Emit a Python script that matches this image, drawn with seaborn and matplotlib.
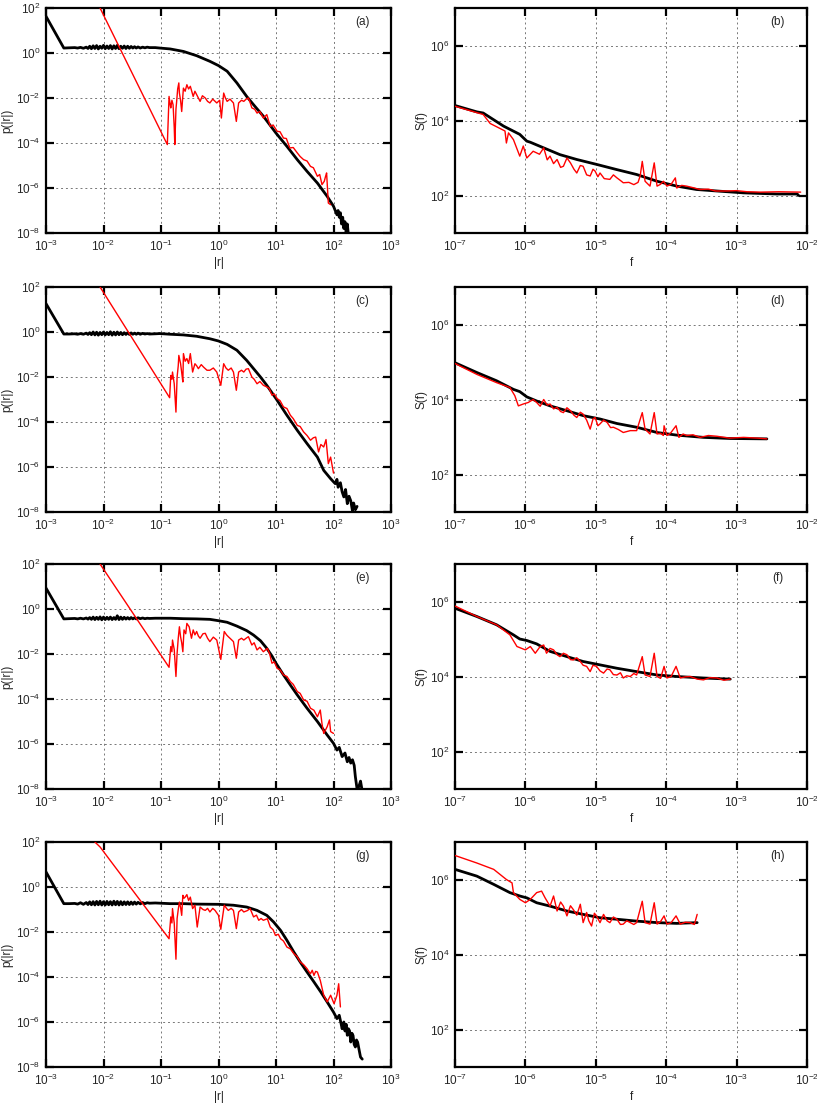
import numpy as np
import pandas as pd
import matplotlib
matplotlib.use('Agg')
import matplotlib.pyplot as plt
import matplotlib.ticker as mticker
import seaborn as sns

# ── Data (log10 values) ─────────────────────────────────────────
# left column: p(|r|) vs |r| ; black = model, red = data
a_blk_x = [-3.0, -2.69, -2.6, -2.5, -2.45, -2.4, -2.35, -2.3, -2.27, -2.24, -2.21, -2.18, -2.15, -2.12,
           -2.09, -2.06, -2.03, -2.0, -1.97, -1.94, -1.91, -1.88, -1.85, -1.82, -1.79, -1.76, -1.73, -1.7,
           -1.67, -1.64, -1.61, -1.58, -1.55, -1.52, -1.49, -1.46, -1.43, -1.4, -1.36, -1.32, -1.28, -1.24,
           -1.2, -1.1, -1.02, -0.84, -0.61, -0.38, -0.15, 0.0, 0.15, 0.32, 0.49, 0.61, 0.78, 1.0, 1.19, 1.37,
           1.54, 1.72, 1.89, 2.0, 2.03, 2.06, 2.08, 2.1, 2.12, 2.14, 2.16, 2.18, 2.2, 2.22, 2.24, 2.26]
a_blk_y = [1.63, 0.22, 0.23, 0.24, 0.22, 0.25, 0.21, 0.26, 0.2, 0.3, 0.19, 0.32, 0.2, 0.33,
           0.18, 0.3, 0.21, 0.34, 0.19, 0.31, 0.2, 0.33, 0.18, 0.32, 0.2, 0.34, 0.19, 0.3,
           0.21, 0.31, 0.2, 0.3, 0.21, 0.29, 0.22, 0.28, 0.22, 0.27, 0.22, 0.26, 0.23, 0.26,
           0.24, 0.24, 0.22, 0.18, 0.07, -0.12, -0.37, -0.56, -0.81, -1.33, -1.93, -2.3, -2.81, -3.56, -4.15, -4.74,
           -5.26, -5.78, -6.37, -6.81, -7.0, -7.19, -7.0, -7.3, -7.1, -7.6, -7.3, -7.8, -7.5, -8.0, -7.6, -8.1]
a_red_x = [-2.06, -0.89, -0.86, -0.84, -0.83, -0.81, -0.79, -0.77, -0.76, -0.74, -0.73, -0.71, -0.69, -0.68,
           -0.66, -0.64, -0.62, -0.61, -0.58, -0.55, -0.52, -0.49, -0.46, -0.44, -0.41, -0.38, -0.35, -0.32,
           -0.28, -0.23, -0.19, -0.15, -0.1, -0.03, 0.02, 0.05, 0.09, 0.12, 0.15, 0.2, 0.26, 0.31, 0.35, 0.4,
           0.44, 0.48, 0.52, 0.55, 0.58, 0.63, 0.67, 0.72, 0.78, 0.84, 0.9, 0.95, 1.02, 1.07, 1.13, 1.18, 1.24,
           1.3, 1.37, 1.42, 1.48, 1.54, 1.6, 1.65, 1.72, 1.76, 1.8, 1.84, 1.86, 1.88, 1.91, 1.95]
a_red_y = [2.0, -4.07, -1.93, -2.3, -2.44, -2.1, -2.3, -3.3, -4.07, -2.5, -2.22, -1.6, -1.33, -1.78,
           -2.1, -2.6, -1.9, -1.56, -1.7, -1.41, -1.6, -1.48, -1.75, -1.93, -1.7, -1.85, -2.0, -2.15,
           -1.9, -2.0, -2.15, -2.22, -2.05, -2.22, -2.1, -2.89, -1.78, -2.0, -2.15, -2.05, -2.22, -3.04, -2.22, -2.1,
           -2.15, -2.05, -2.0, -2.2, -2.44, -2.5, -2.67, -2.6, -2.89, -2.74, -3.26, -3.2, -3.48, -3.5, -3.78, -3.8, -4.22,
           -4.2, -4.44, -4.6, -4.74, -4.8, -5.04, -5.1, -5.48, -5.4, -5.85, -5.7, -5.5, -5.33, -6.67, -6.74]

c_blk_x = [-3.0, -2.69, -2.6, -2.5, -2.45, -2.4, -2.35, -2.3, -2.27, -2.24, -2.21, -2.18, -2.15, -2.12,
           -2.09, -2.06, -2.03, -2.0, -1.97, -1.94, -1.91, -1.88, -1.85, -1.82, -1.79, -1.76, -1.73, -1.7,
           -1.67, -1.64, -1.61, -1.58, -1.55, -1.52, -1.49, -1.46, -1.43, -1.4, -1.36, -1.32, -1.28, -1.24,
           -1.2, -1.1, -1.02, -0.84, -0.61, -0.38, -0.15, 0.0, 0.15, 0.32, 0.49, 0.61, 0.73, 0.84, 1.0, 1.19,
           1.37, 1.54, 1.72, 1.83, 1.95, 2.03, 2.06, 2.08, 2.12, 2.15, 2.18, 2.21, 2.24, 2.27, 2.3, 2.33,
           2.35, 2.38, 2.41]
c_blk_y = [1.26, -0.09, -0.09, -0.08, -0.1, -0.07, -0.1, -0.05, -0.11, -0.03, -0.12, 0.0, -0.13, -0.01,
           -0.14, -0.02, -0.12, 0.0, -0.13, -0.02, -0.12, 0.01, -0.14, -0.01, -0.13, 0.0, -0.12, -0.02,
           -0.12, -0.03, -0.11, -0.03, -0.11, -0.04, -0.1, -0.05, -0.1, -0.05, -0.1, -0.06, -0.09, -0.07,
           -0.09, -0.08, -0.07, -0.1, -0.13, -0.19, -0.3, -0.4, -0.55, -0.81, -1.26, -1.63, -2.0, -2.37, -2.96, -3.7,
           -4.37, -4.96, -5.56, -6.15, -6.52, -6.74, -6.55, -6.9, -6.7, -7.1, -7.33, -7.0, -7.63, -7.3, -7.5, -7.95,
           -7.6, -7.9, -7.75]
c_red_x = [-2.06, -0.85, -0.83, -0.81, -0.8, -0.77, -0.74, -0.72, -0.7, -0.69, -0.66, -0.64, -0.62, -0.61,
           -0.58, -0.55, -0.52, -0.49, -0.45, -0.41, -0.38, -0.35, -0.3, -0.26, -0.2, -0.15, -0.09, -0.03, 0.04,
           0.09, 0.13, 0.17, 0.22, 0.26, 0.31, 0.35, 0.4, 0.44, 0.48, 0.52, 0.58, 0.62, 0.67, 0.72, 0.78,
           0.84, 0.88, 0.93, 0.97, 1.02, 1.07, 1.13, 1.19, 1.25, 1.3, 1.37, 1.42, 1.48, 1.54, 1.6, 1.65, 1.69,
           1.74, 1.78, 1.83, 1.87, 1.91, 1.95, 2.0]
c_red_y = [2.0, -2.92, -1.93, -2.1, -1.78, -2.3, -3.56, -2.0, -1.5, -1.04, -1.4, -1.8, -2.22, -0.96,
           -1.3, -1.18, -1.4, -0.96, -1.78, -1.41, -1.5, -1.63, -1.45, -1.56, -1.7, -1.7, -1.6, -1.78, -2.37,
           -1.41, -1.6, -1.7, -1.6, -1.78, -2.59, -1.78, -1.7, -1.78, -1.65, -1.63, -2.0, -2.1, -2.3, -2.2, -2.37,
           -2.44, -2.5, -2.81, -2.75, -2.96, -3.05, -3.33, -3.4, -3.7, -3.85, -4.15, -4.2, -4.44, -4.6, -4.81, -4.7, -4.67,
           -5.33, -5.0, -5.11, -4.78, -5.85, -5.56, -6.27]

e_blk_x = [-3.0, -2.69, -2.6, -2.5, -2.45, -2.4, -2.35, -2.3, -2.27, -2.24, -2.21, -2.18, -2.15, -2.12,
           -2.09, -2.06, -2.03, -2.0, -1.97, -1.94, -1.91, -1.88, -1.85, -1.82, -1.79, -1.76, -1.73, -1.7,
           -1.67, -1.64, -1.61, -1.58, -1.55, -1.52, -1.49, -1.46, -1.43, -1.4, -1.36, -1.32, -1.28, -1.24,
           -1.2, -1.1, -0.84, -0.61, -0.38, -0.15, 0.0, 0.15, 0.32, 0.49, 0.61, 0.73, 0.84, 0.93, 1.0, 1.13,
           1.25, 1.37, 1.54, 1.72, 1.89, 2.0, 2.06, 2.1, 2.15, 2.2, 2.24, 2.27, 2.3, 2.33, 2.36, 2.38, 2.41,
           2.44, 2.47, 2.5]
e_blk_y = [0.93, -0.44, -0.43, -0.42, -0.44, -0.41, -0.44, -0.4, -0.45, -0.38, -0.46, -0.36, -0.47, -0.37,
           -0.46, -0.35, -0.48, -0.36, -0.47, -0.37, -0.46, -0.36, -0.47, -0.38, -0.46, -0.3, -0.47, -0.36,
           -0.46, -0.37, -0.45, -0.38, -0.45, -0.38, -0.44, -0.39, -0.44, -0.39, -0.43, -0.4, -0.43, -0.41,
           -0.42, -0.41, -0.41, -0.43, -0.44, -0.46, -0.52, -0.59, -0.76, -0.96, -1.16, -1.41, -1.75, -2.09, -2.41, -2.93,
           -3.38, -3.82, -4.41, -5.0, -5.6, -5.97, -6.27, -6.15, -6.56, -6.4, -6.79, -6.6, -6.85, -6.7, -6.95, -7.45,
           -8.0, -7.9, -7.65, -8.1]
e_red_x = [-2.06, -0.86, -0.83, -0.81, -0.8, -0.77, -0.74, -0.72, -0.7, -0.68, -0.66, -0.64, -0.62, -0.6,
           -0.57, -0.55, -0.51, -0.47, -0.44, -0.41, -0.38, -0.35, -0.32, -0.27, -0.23, -0.19, -0.15, -0.09,
           -0.03, 0.04, 0.1, 0.14, 0.17, 0.22, 0.26, 0.31, 0.35, 0.4, 0.44, 0.48, 0.52, 0.58, 0.62, 0.67, 0.72,
           0.78, 0.85, 0.89, 0.93, 0.97, 1.02, 1.07, 1.13, 1.19, 1.25, 1.3, 1.37, 1.42, 1.48, 1.54, 1.6, 1.66,
           1.72, 1.77, 1.8, 1.83, 1.89, 1.93, 1.95, 2.0]
e_red_y = [2.0, -2.59, -1.67, -1.9, -1.38, -1.8, -3.0, -1.97, -1.3, -0.79, -1.23, -1.5, -1.9, -0.93,
           -1.1, -0.64, -0.79, -1.3, -0.93, -1.15, -1.0, -1.2, -1.3, -1.1, -1.08, -1.3, -1.45, -1.25,
           -1.38, -2.24, -1.0, -1.15, -1.23, -1.35, -1.45, -2.19, -1.38, -1.3, -1.38, -1.3, -1.23, -1.6, -1.5, -1.82, -1.7,
           -1.9, -1.75, -2.0, -2.41, -2.35, -2.64, -2.7, -2.93, -3.0, -3.23, -3.35, -3.67, -3.75, -4.04, -4.1, -4.41, -4.5,
           -4.79, -4.49, -5.1, -5.53, -5.23, -4.93, -5.45, -5.53]

g_blk_x = [-3.0, -2.69, -2.6, -2.5, -2.45, -2.4, -2.35, -2.3, -2.27, -2.24, -2.21, -2.18, -2.15, -2.12,
           -2.09, -2.06, -2.03, -2.0, -1.97, -1.94, -1.91, -1.88, -1.85, -1.82, -1.79, -1.76, -1.73, -1.7,
           -1.67, -1.64, -1.61, -1.58, -1.55, -1.52, -1.49, -1.46, -1.43, -1.4, -1.36, -1.32, -1.28, -1.24,
           -1.2, -1.1, -0.84, -0.61, -0.38, 0.0, 0.26, 0.49, 0.67, 0.84, 0.96, 1.08, 1.19, 1.31, 1.42, 1.54,
           1.66, 1.78, 1.89, 2.0, 2.06, 2.1, 2.13, 2.15, 2.18, 2.2, 2.22, 2.24, 2.26, 2.28, 2.3, 2.32, 2.34,
           2.36, 2.38, 2.4, 2.42, 2.45, 2.47, 2.5]
g_blk_y = [0.67, -0.74, -0.74, -0.73, -0.76, -0.7, -0.77, -0.69, -0.78, -0.66, -0.79, -0.65, -0.8, -0.64,
           -0.79, -0.63, -0.8, -0.65, -0.8, -0.64, -0.79, -0.65, -0.8, -0.63, -0.79, -0.64, -0.8, -0.65,
           -0.79, -0.66, -0.78, -0.66, -0.78, -0.67, -0.77, -0.67, -0.76, -0.68, -0.75, -0.69, -0.74, -0.7,
           -0.72, -0.71, -0.74, -0.74, -0.76, -0.77, -0.81, -0.89, -1.04, -1.26, -1.56, -1.93, -2.37, -2.89, -3.33, -3.78,
           -4.22, -4.67, -5.11, -5.56, -5.85, -5.7, -6.05, -6.3, -6.0, -6.4, -6.1, -6.59, -6.3, -6.4, -6.89, -6.5, -6.6,
           -7.0, -7.11, -6.8, -6.9, -7.3, -7.56, -7.65]
g_red_x = [-2.15, -2.06, -0.86, -0.83, -0.81, -0.8, -0.77, -0.74, -0.72, -0.7, -0.68, -0.66, -0.64, -0.62,
           -0.6, -0.58, -0.55, -0.52, -0.49, -0.45, -0.41, -0.37, -0.32, -0.27, -0.23, -0.19, -0.15, -0.1, -0.06,
           0.0, 0.04, 0.1, 0.14, 0.17, 0.22, 0.26, 0.31, 0.35, 0.4, 0.44, 0.5, 0.55, 0.61, 0.66, 0.7, 0.74,
           0.78, 0.85, 0.9, 0.95, 0.99, 1.04, 1.08, 1.13, 1.19, 1.25, 1.31, 1.37, 1.42, 1.48, 1.54, 1.57, 1.6,
           1.63, 1.66, 1.69, 1.72, 1.77, 1.83, 1.89, 1.95, 2.01, 2.06, 2.09, 2.12]
g_red_y = [2.0, 1.78, -2.3, -1.33, -1.6, -0.96, -1.6, -3.21, -1.4, -1.0, -0.67, -0.9, -1.26, -0.37,
           -0.5, -0.45, -0.34, -0.6, -0.45, -0.96, -0.81, -1.78, -0.89, -1.0, -1.04, -0.95, -1.11, -0.95, -1.04,
           -1.26, -1.88, -0.81, -0.95, -1.04, -0.95, -1.04, -1.85, -1.11, -1.0, -1.11, -1.05, -0.96, -1.33, -1.25, -1.48, -1.4,
           -1.48, -1.41, -1.78, -1.9, -2.15, -2.1, -2.3, -2.4, -2.67, -2.75, -2.96, -3.1, -3.33, -3.45, -3.63, -3.75, -3.85,
           -3.7, -3.93, -3.75, -3.78, -4.15, -4.81, -5.11, -4.81, -5.19, -4.81, -4.3, -5.33]

# right column: S(f) vs f
b_blk_x = [-7.0, -6.69, -6.6, -6.31, -6.08, -5.98, -5.93, -5.74, -5.51, -5.27, -4.99, -4.7, -4.42, -4.13,
           -3.85, -3.57, -3.28, -2.9, -2.43, -2.14, -2.12]
b_blk_y = [4.4, 4.23, 4.2, 3.85, 3.63, 3.45, 3.42, 3.27, 3.09, 2.96, 2.83, 2.69, 2.56, 2.38,
           2.25, 2.16, 2.12, 2.07, 2.04, 2.04, 2.0]
b_red_x = [-7.0, -6.6, -6.5, -6.29, -6.27, -6.24, -6.17, -6.08, -6.03, -5.98, -5.89, -5.8, -5.74, -5.69,
           -5.65, -5.6, -5.55, -5.5, -5.46, -5.41, -5.36, -5.31, -5.27, -5.22, -5.18, -5.13, -5.08, -5.04,
           -5.01, -4.97, -4.94, -4.88, -4.8, -4.75, -4.7, -4.65, -4.61, -4.53, -4.46, -4.4, -4.37, -4.34, -4.3,
           -4.23, -4.17, -4.13, -4.08, -4.04, -3.99, -3.93, -3.87, -3.85, -3.78, -3.71, -3.6, -3.52, -3.4, -3.3,
           -3.14, -3.0, -2.85, -2.66, -2.4, -2.09]
b_red_y = [4.38, 4.16, 3.92, 3.72, 3.4, 3.67, 3.49, 3.05, 3.32, 3.0, 3.18, 3.1, 3.27, 2.95,
           3.05, 2.85, 2.96, 2.75, 2.78, 3.0, 2.87, 2.7, 2.6, 2.8, 2.78, 2.55, 2.52, 2.7,
           2.65, 2.5, 2.6, 2.45, 2.43, 2.55, 2.47, 2.4, 2.34, 2.35, 2.29, 2.35, 2.52, 2.91, 2.38,
           2.25, 2.87, 2.25, 2.3, 2.38, 2.25, 2.3, 2.47, 2.2, 2.27, 2.25, 2.2, 2.16, 2.17, 2.12,
           2.12, 2.13, 2.1, 2.09, 2.1, 2.09]

d_blk_x = [-7.0, -6.69, -6.41, -6.17, -6.08, -5.98, -5.84, -5.65, -5.41, -5.18, -4.94, -4.7, -4.42, -4.13,
           -3.85, -3.47, -3.09, -2.57]
d_blk_y = [4.98, 4.72, 4.5, 4.27, 4.21, 4.07, 3.96, 3.83, 3.7, 3.57, 3.48, 3.36, 3.26, 3.12,
           3.05, 2.99, 2.96, 2.95]
d_red_x = [-7.0, -6.69, -6.41, -6.22, -6.15, -6.1, -6.03, -5.96, -5.89, -5.84, -5.79, -5.74, -5.69, -5.65,
           -5.6, -5.55, -5.5, -5.46, -5.41, -5.36, -5.31, -5.27, -5.22, -5.18, -5.13, -5.08, -5.04, -5.01,
           -4.97, -4.94, -4.89, -4.84, -4.79, -4.75, -4.68, -4.61, -4.51, -4.42, -4.34, -4.3, -4.23, -4.17,
           -4.13, -4.08, -4.04, -4.03, -3.99, -3.94, -3.86, -3.82, -3.76, -3.71, -3.62, -3.52, -3.4, -3.28,
           -3.1, -2.9, -2.7, -2.57]
d_red_y = [4.96, 4.67, 4.45, 4.32, 4.1, 3.83, 3.88, 3.92, 4.0, 3.92, 3.82, 4.0, 3.85, 3.88,
           3.75, 3.79, 3.68, 3.65, 3.78, 3.7, 3.58, 3.52, 3.66, 3.61, 3.45, 3.21, 3.48, 3.52,
           3.3, 3.35, 3.45, 3.39, 3.25, 3.26, 3.2, 3.12, 3.17, 3.17, 3.65, 3.21, 3.08, 3.65,
           3.08, 3.1, 3.04, 3.3, 3.04, 3.1, 3.3, 2.99, 3.08, 3.04, 3.06, 2.99, 3.04, 3.02,
           2.97, 2.99, 2.97, 2.95]

f_blk_x = [-7.0, -6.69, -6.41, -6.17, -6.08, -5.98, -5.84, -5.65, -5.41, -5.18, -4.94, -4.7, -4.42, -4.13,
           -3.85, -3.47, -3.09]
f_blk_y = [5.82, 5.6, 5.38, 5.11, 5.0, 4.96, 4.87, 4.67, 4.53, 4.4, 4.31, 4.22, 4.13, 4.04,
           4.0, 3.96, 3.93]
f_red_x = [-7.0, -6.69, -6.41, -6.22, -6.12, -6.0, -5.93, -5.86, -5.79, -5.74, -5.7, -5.65, -5.6, -5.55,
           -5.51, -5.46, -5.41, -5.36, -5.32, -5.27, -5.22, -5.18, -5.13, -5.08, -5.04, -4.99, -4.94, -4.89,
           -4.84, -4.8, -4.75, -4.7, -4.65, -4.61, -4.56, -4.51, -4.46, -4.42, -4.34, -4.3, -4.23, -4.17, -4.13,
           -4.08, -4.03, -3.99, -3.93, -3.86, -3.8, -3.73, -3.66, -3.56, -3.47, -3.38, -3.28, -3.18, -3.09]
f_red_y = [5.88, 5.6, 5.38, 5.11, 4.8, 4.71, 4.8, 4.62, 4.8, 4.84, 4.62, 4.75, 4.71, 4.58,
           4.53, 4.62, 4.58, 4.45, 4.44, 4.5, 4.4, 4.3, 4.27, 4.13, 4.3, 4.27, 4.15, 4.09,
           4.2, 4.18, 4.05, 4.04, 4.1, 3.96, 4.02, 4.0, 4.08, 4.04, 4.53, 4.04, 4.0, 4.62, 4.0,
           3.95, 4.27, 3.96, 4.0, 4.27, 3.96, 3.99, 4.0, 3.93, 3.91, 3.97, 3.96, 3.9, 3.93]

h_blk_x = [-7.0, -6.69, -6.45, -6.22, -6.08, -5.98, -5.84, -5.65, -5.41, -5.18, -4.94, -4.7, -4.42, -4.13,
           -3.85, -3.56]
h_blk_y = [6.27, 6.09, 5.87, 5.65, 5.56, 5.51, 5.38, 5.29, 5.16, 5.07, 4.98, 4.94, 4.89, 4.85,
           4.83, 4.85]
h_red_x = [-7.0, -6.69, -6.45, -6.27, -6.19, -6.17, -6.08, -6.0, -5.93, -5.84, -5.77, -5.72, -5.65, -5.6,
           -5.55, -5.5, -5.46, -5.41, -5.36, -5.32, -5.27, -5.22, -5.18, -5.13, -5.1, -5.06, -5.02, -4.99,
           -4.94, -4.89, -4.84, -4.8, -4.75, -4.7, -4.65, -4.61, -4.56, -4.51, -4.46, -4.42, -4.34, -4.3, -4.23,
           -4.17, -4.13, -4.08, -4.03, -3.99, -3.93, -3.86, -3.8, -3.73, -3.66, -3.6, -3.56]
h_red_y = [6.64, 6.44, 6.27, 6.0, 5.91, 5.65, 5.47, 5.38, 5.47, 5.65, 5.69, 5.51, 5.29, 5.56,
           5.16, 5.4, 5.29, 5.03, 5.3, 5.2, 5.05, 5.34, 4.85, 5.12, 4.9, 4.76, 5.1, 5.03,
           4.85, 5.07, 4.9, 4.85, 5.0, 4.94, 4.8, 4.81, 4.9, 4.85, 4.8, 4.85, 5.42, 4.85, 4.81,
           5.38, 4.81, 4.88, 5.03, 4.81, 4.85, 5.03, 4.81, 4.86, 4.85, 4.8, 5.07]

panel_letters = ['(a)', '(b)', '(c)', '(d)', '(e)', '(f)', '(g)', '(h)']
left_series = [(a_blk_x, a_blk_y, a_red_x, a_red_y), (c_blk_x, c_blk_y, c_red_x, c_red_y),
               (e_blk_x, e_blk_y, e_red_x, e_red_y), (g_blk_x, g_blk_y, g_red_x, g_red_y)]
right_series = [(b_blk_x, b_blk_y, b_red_x, b_red_y), (d_blk_x, d_blk_y, d_red_x, d_red_y),
                (f_blk_x, f_blk_y, f_red_x, f_red_y), (h_blk_x, h_blk_y, h_red_x, h_red_y)]

# ── Style ───────────────────────────────────────────────────────
sns.set_style('ticks')
plt.rcParams['font.family'] = ['Liberation Sans', 'DejaVu Sans']
plt.rcParams['mathtext.fontset'] = 'custom'
plt.rcParams['mathtext.rm'] = 'Liberation Sans'
plt.rcParams['mathtext.it'] = 'Liberation Sans'
FS = 8.5

fig = plt.figure(figsize=(8.17, 11.05), dpi=100)
W, H = 817, 1105
row_top = [8, 287, 564, 842]
ax_h = 225


def style_axis(ax, xlim, ylim, xt, yt, xlabel, ylabel, letter):
    ax.set_xscale('log')
    ax.set_yscale('log')
    ax.set_xlim(*xlim)
    ax.set_ylim(*ylim)
    ax.xaxis.set_major_locator(mticker.FixedLocator(xt))
    ax.yaxis.set_major_locator(mticker.FixedLocator(yt))
    ax.xaxis.set_minor_locator(mticker.NullLocator())
    ax.yaxis.set_minor_locator(mticker.NullLocator())
    ax.xaxis.set_major_formatter(mticker.LogFormatterSciNotation())
    ax.yaxis.set_major_formatter(mticker.LogFormatterSciNotation())
    ax.tick_params(which='major', direction='in', length=6, width=1.6, top=True, right=True,
                   labelsize=FS, pad=4, color='black')
    for s in ax.spines.values():
        s.set_visible(True)
        s.set_linewidth(1.6)
        s.set_color('black')
    ax.grid(True, which='major', color='#777777', linestyle=(0, (2, 3)), linewidth=0.7)
    ax.set_axisbelow(True)
    ax.set_xlabel(xlabel, fontsize=FS, labelpad=2)
    ax.set_ylabel(ylabel, fontsize=FS, labelpad=2)
    ax.text(0.917, 0.938, letter, transform=ax.transAxes, ha='center', va='center', fontsize=FS)


def draw(ax, bx, by, rx, ry):
    blk = pd.DataFrame({'x': np.power(10.0, bx), 'y': np.power(10.0, by)})
    red = pd.DataFrame({'x': np.power(10.0, rx), 'y': np.power(10.0, ry)})
    sns.lineplot(data=blk, x='x', y='y', ax=ax, color='black', linewidth=2.0,
                 estimator=None, sort=False, zorder=3)
    sns.lineplot(data=red, x='x', y='y', ax=ax, color='#ff0000', linewidth=1.0,
                 estimator=None, sort=False, zorder=4)


for i in range(4):
    bottom = 1 - (row_top[i] + ax_h) / H
    axl = fig.add_axes([46 / W, bottom, 345 / W, ax_h / H])
    axr = fig.add_axes([455 / W, bottom, 352 / W, ax_h / H])

    bx, by, rx, ry = left_series[i]
    draw(axl, bx, by, rx, ry)
    style_axis(axl, (1e-3, 1e3), (1e-8, 1e2),
               [10.0 ** k for k in range(-3, 4)], [10.0 ** k for k in range(-8, 3, 2)],
               '|r|', 'p(|r|)', panel_letters[2 * i])

    bx, by, rx, ry = right_series[i]
    draw(axr, bx, by, rx, ry)
    style_axis(axr, (1e-7, 1e-2), (1e1, 1e7),
               [10.0 ** k for k in range(-7, -1)], [1e2, 1e4, 1e6],
               'f', 'S(f)', panel_letters[2 * i + 1])

fig.savefig('out.png', dpi=100)
